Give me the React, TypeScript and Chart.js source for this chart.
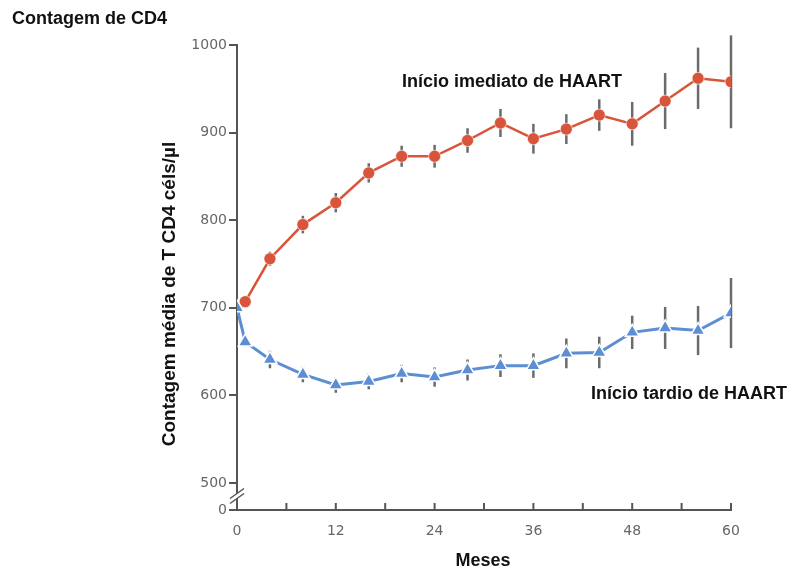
import React, { useEffect, useRef } from "react";
import { Chart, registerables } from "chart.js";

Chart.register(...registerables);

const months = [0, 1, 4, 8, 12, 16, 20, 24, 28, 32, 36, 40, 44, 48, 52, 56, 60];
const immediateValues = [700, 707, 756, 795, 820, 854, 873, 873, 891, 911, 893, 904, 920, 910, 936, 962, 958];
const immediateErrors = [0, 5, 8, 10, 11, 11, 12, 13, 14, 16, 17, 17, 18, 25, 32, 35, 53];
const delayedValues = [700, 661, 641, 624, 612, 616, 625, 621, 629, 634, 634, 648, 649, 672, 677, 674, 694];
const delayedErrors = [0, 5, 10, 9, 9, 9, 10, 11, 12, 13, 14, 17, 18, 19, 24, 28, 40];
const yTickValues = [500, 600, 700, 800, 900, 1000];
const xTickLabels = [0, 12, 24, 36, 48, 60];

const Y_MIN = 469.2; // position labelled "0" below the axis break
const Y_MAX = 1000;

const RED = "#d8543a";
const BLUE = "#5b8ed3";
const AXIS = "#555555";
const TICK_TEXT = "#666666";
const BOLD = "bold 18px 'Liberation Sans', Arial, sans-serif";

const overlayPlugin = {
  id: "overlay",
  beforeDatasetsDraw(chart: any) {
    const ctx = chart.ctx;
    const x = chart.scales.x;
    const y = chart.scales.y;
    ctx.save();
    ctx.strokeStyle = "#6b6b6b";
    ctx.lineWidth = 2.5;
    const drawBars = (vals: number[], errs: number[]) => {
      vals.forEach((v, i) => {
        if (!errs[i]) return;
        const px = x.getPixelForValue(months[i]);
        ctx.beginPath();
        ctx.moveTo(px, y.getPixelForValue(v - errs[i]));
        ctx.lineTo(px, y.getPixelForValue(v + errs[i]));
        ctx.stroke();
      });
    };
    drawBars(immediateValues, immediateErrors);
    drawBars(delayedValues, delayedErrors);
    ctx.restore();
  },
  afterDraw(chart: any) {
    const ctx = chart.ctx;
    const x = chart.scales.x;
    const y = chart.scales.y;
    const area = chart.chartArea;
    ctx.save();
    // x-axis tick marks pointing up
    ctx.strokeStyle = AXIS;
    ctx.lineWidth = 2;
    for (let m = 0; m <= 60; m += 6) {
      const px = x.getPixelForValue(m);
      ctx.beginPath();
      ctx.moveTo(px, area.bottom);
      ctx.lineTo(px, area.bottom - 7);
      ctx.stroke();
    }
    // axis break
    const bx = area.left;
    const by = (y.getPixelForValue(500) + area.bottom) / 2;
    ctx.fillStyle = "#ffffff";
    ctx.beginPath();
    ctx.moveTo(bx - 7, by + 2);
    ctx.lineTo(bx + 7, by - 8);
    ctx.lineTo(bx + 7, by - 3);
    ctx.lineTo(bx - 7, by + 7);
    ctx.closePath();
    ctx.fill();
    ctx.strokeStyle = AXIS;
    ctx.lineWidth = 1.5;
    ctx.beginPath();
    ctx.moveTo(bx - 7, by + 2);
    ctx.lineTo(bx + 7, by - 8);
    ctx.moveTo(bx - 7, by + 7);
    ctx.lineTo(bx + 7, by - 3);
    ctx.stroke();

    // texts
    ctx.fillStyle = "#111111";
    ctx.font = BOLD;
    ctx.textBaseline = "alphabetic";
    ctx.textAlign = "left";
    ctx.fillText("Contagem de CD4", 12, 24);
    ctx.fillText("Início imediato de HAART", 402, 87);
    ctx.fillText("Início tardio de HAART", 591, 399);
    ctx.textAlign = "center";
    ctx.fillText("Meses", 483, 566);
    ctx.font = "bold 19px 'Liberation Sans', Arial, sans-serif";
    ctx.textBaseline = "middle";
    ctx.translate(170, 294);
    ctx.rotate(-Math.PI / 2);
    ctx.fillText("Contagem média de T CD4 céls/µl", 0, 0);
    ctx.restore();
  },
};

export default function App() {
  const canvasRef = useRef<HTMLCanvasElement | null>(null);

  useEffect(() => {
    document.body.style.margin = "0";
    const canvas = canvasRef.current;
    if (!canvas) return;
    const chart = new Chart(canvas, {
      type: "line",
      data: {
        datasets: [
          {
            label: "Início imediato de HAART",
            data: months.map((m, i) => ({ x: m, y: immediateValues[i] })),
            borderColor: RED,
            backgroundColor: RED,
            borderWidth: 2.5,
            pointRadius: 6,
            pointBorderColor: "rgba(255,255,255,0.6)",
            pointBorderWidth: 1,
            pointStyle: "circle",
            order: 1,
          },
          {
            label: "Início tardio de HAART",
            data: months.map((m, i) => ({ x: m, y: delayedValues[i] })),
            borderColor: BLUE,
            backgroundColor: BLUE,
            borderWidth: 3,
            pointRadius: 8,
            pointBorderColor: "#ffffff",
            pointBorderWidth: 1.5,
            pointStyle: "triangle",
            order: 0,
          },
        ],
      },
      options: {
        animation: false,
        responsive: false,
        maintainAspectRatio: false,
        layout: { padding: { left: 0, top: 45, right: 61, bottom: 0 } },
        plugins: { legend: { display: false }, tooltip: { enabled: false } },
        scales: {
          x: {
            type: "linear",
            min: 0,
            max: 60,
            afterFit: (s: any) => {
              s.height = 58;
            },
            afterBuildTicks: (s: any) => {
              s.ticks = xTickLabels.map((v) => ({ value: v }));
            },
            ticks: {
              padding: 5,
              color: TICK_TEXT,
              font: { family: "'DejaVu Sans', sans-serif", size: 14 },
              maxRotation: 0,
            },
            grid: { display: false },
            border: { display: true, color: AXIS, width: 2 },
          },
          y: {
            type: "linear",
            min: Y_MIN,
            max: Y_MAX,
            afterFit: (s: any) => {
              s.width = 237;
            },
            afterBuildTicks: (s: any) => {
              s.ticks = [{ value: Y_MIN }, ...yTickValues.map((v) => ({ value: v }))];
            },
            ticks: {
              padding: 2,
              color: TICK_TEXT,
              font: { family: "'DejaVu Sans', sans-serif", size: 14 },
              callback: (v: any) => (v < 490 ? "0" : String(v)),
            },
            grid: {
              display: true,
              drawOnChartArea: false,
              drawTicks: true,
              tickLength: 8,
              color: AXIS,
              lineWidth: 2,
            },
            border: { display: true, color: AXIS, width: 2 },
          },
        },
      },
      plugins: [overlayPlugin],
    } as any);
    return () => chart.destroy();
  }, []);

  return (
    <div style={{ width: 792, height: 568, background: "#fff" }}>
      <canvas ref={canvasRef} width={792} height={568} style={{ display: "block" }} />
    </div>
  );
}
